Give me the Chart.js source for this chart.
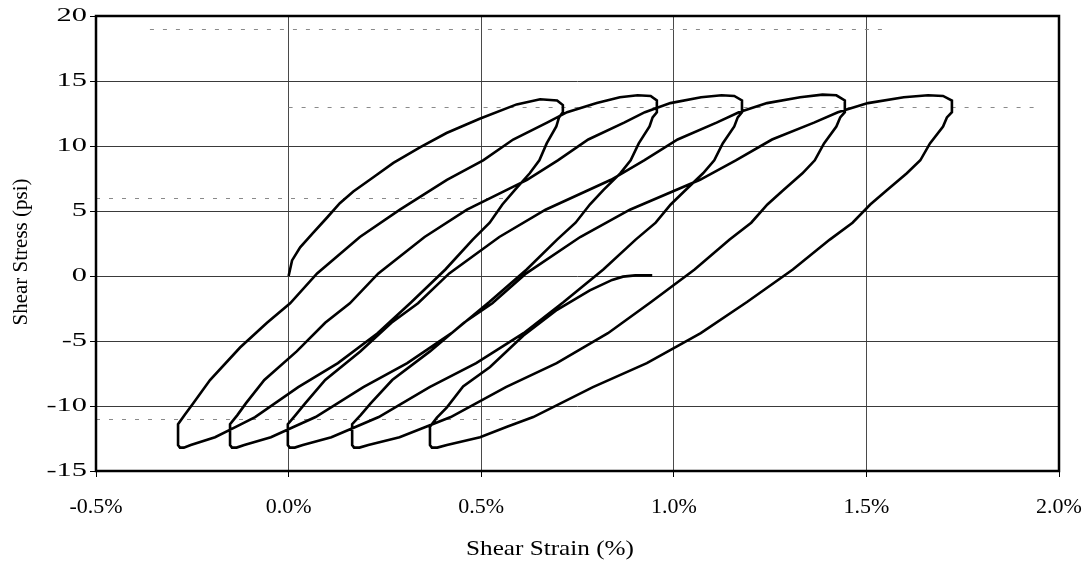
<!DOCTYPE html>
<html>
<head>
<meta charset="utf-8">
<script src="https://cdn.jsdelivr.net/npm/chart.js@4/dist/chart.umd.min.js"></script>
<style>
  html, body { margin: 0; padding: 0; background: #fff; }
  #wrap { width: 1090px; height: 565px; }
</style>
</head>
<body>
<div id="wrap"><canvas id="grafico"></canvas></div>
<script>
// axis ticks
const strainTicks = [-0.5, 0.0, 0.5, 1.0, 1.5, 2.0];
const stressTicks = [-15, -10, -5, 0, 5, 10, 15, 20];

// shear strain (%), shear stress (psi) for each branch of the test
const load1 = [[0,0],[0.009,1.2],[0.03,2.2],[0.063,3.3],[0.10,4.5],[0.133,5.6],[0.168,6.5],[0.22,7.6],[0.272,8.7],[0.341,9.9],[0.41,11.0],[0.496,12.1],[0.592,13.2],[0.653,13.6],[0.697,13.5],[0.712,13.15]];
const unload1 = [[0.712,12.6],[0.702,12.2],[0.695,11.5],[0.670,10.2],[0.651,8.9],[0.626,7.9],[0.587,6.6],[0.555,5.5],[0.522,4.1],[0.478,2.8],[0.407,0.5],[0.319,-2.0],[0.231,-4.4],[0.128,-6.7],[0.025,-8.55],[-0.087,-10.85],[-0.137,-11.6],[-0.191,-12.4],[-0.254,-13.0],[-0.272,-13.2],[-0.282,-13.2]];
const load2 = [[-0.287,-13.0],[-0.287,-11.4],[-0.270,-10.7],[-0.248,-9.8],[-0.204,-8.0],[-0.126,-5.5],[-0.056,-3.6],[0.004,-2.1],[0.074,0.2],[0.185,3.0],[0.289,5.1],[0.411,7.4],[0.505,8.9],[0.583,10.5],[0.671,11.8],[0.723,12.6],[0.80,13.3],[0.86,13.75],[0.906,13.9],[0.94,13.85],[0.956,13.5]];
const unload2 = [[0.956,12.6],[0.945,12.2],[0.937,11.5],[0.909,10.2],[0.888,8.9],[0.861,7.9],[0.817,6.6],[0.782,5.5],[0.745,4.1],[0.697,2.8],[0.618,0.5],[0.521,-2.0],[0.423,-4.4],[0.308,-6.7],[0.194,-8.55],[0.070,-10.85],[0.014,-11.6],[-0.046,-12.4],[-0.115,-13.0],[-0.135,-13.2],[-0.147,-13.2]];
const load3 = [[-0.152,-13.0],[-0.152,-11.4],[-0.133,-10.7],[-0.111,-9.8],[-0.063,-8.0],[0.021,-5.8],[0.095,-3.6],[0.159,-2.1],[0.233,0.2],[0.353,3.0],[0.463,5.1],[0.619,7.4],[0.699,8.9],[0.778,10.5],[0.871,11.8],[0.925,12.6],[0.991,13.3],[1.071,13.75],[1.124,13.9],[1.157,13.85],[1.177,13.5]];
const unload3 = [[1.177,12.6],[1.166,12.2],[1.157,11.5],[1.127,10.2],[1.105,8.9],[1.076,7.9],[1.030,6.6],[0.992,5.5],[0.953,4.1],[0.901,2.8],[0.817,0.5],[0.714,-2.0],[0.610,-4.4],[0.487,-6.7],[0.366,-8.55],[0.234,-10.85],[0.175,-11.6],[0.111,-12.4],[0.037,-13.0],[0.016,-13.2],[0.003,-13.2]];
const load4 = [[-0.002,-13.0],[-0.002,-11.4],[0.018,-10.7],[0.043,-9.8],[0.095,-8.0],[0.186,-5.8],[0.267,-3.6],[0.336,-2.1],[0.417,0.2],[0.547,3.0],[0.667,5.1],[0.837,7.4],[0.923,8.9],[1.010,10.5],[1.111,11.8],[1.169,12.6],[1.242,13.3],[1.328,13.75],[1.386,13.95],[1.422,13.9],[1.444,13.5]];
const unload4 = [[1.444,12.6],[1.432,12.2],[1.422,11.5],[1.390,10.2],[1.366,8.9],[1.334,7.9],[1.284,6.6],[1.243,5.5],[1.201,4.1],[1.145,2.8],[1.054,0.5],[0.941,-2.0],[0.829,-4.4],[0.696,-6.7],[0.564,-8.55],[0.421,-10.85],[0.357,-11.6],[0.288,-12.4],[0.207,-13.0],[0.184,-13.2],[0.170,-13.2]];
const load5 = [[0.165,-13.0],[0.165,-11.4],[0.187,-10.7],[0.213,-9.8],[0.269,-8.0],[0.367,-5.8],[0.455,-3.6],[0.529,-2.1],[0.617,0.2],[0.757,3.0],[0.886,5.1],[1.068,7.4],[1.161,8.9],[1.255,10.5],[1.364,11.8],[1.426,12.6],[1.504,13.3],[1.597,13.75],[1.660,13.9],[1.699,13.85],[1.722,13.5]];
const unload5 = [[1.722,12.6],[1.709,12.2],[1.699,11.5],[1.665,10.2],[1.64,8.9],[1.605,7.9],[1.553,6.6],[1.51,5.5],[1.464,4.1],[1.405,2.8],[1.309,0.5],[1.19,-2.0],[1.07,-4.4],[0.93,-6.7],[0.79,-8.55],[0.635,-10.85],[0.567,-11.6],[0.497,-12.4],[0.411,-13.0],[0.386,-13.2],[0.372,-13.2]];
const load6 = [[0.367,-13.0],[0.367,-11.6],[0.385,-10.9],[0.411,-10.1],[0.453,-8.5],[0.523,-7.0],[0.609,-4.6],[0.697,-2.6],[0.782,-1.1],[0.84,-0.3],[0.868,-0.05],[0.90,0.05],[0.944,0.05]];

// faint dotted rules left on the sheet: [stress, from strain, to strain]
const dottedRules = [[19, -0.36, 1.55], [13, 0.0, 1.95], [6, -0.5, 0.56], [-11, -0.5, 0.62]];

const xTitle = "Shear Strain (%)";
const yTitle = "Shear Stress (psi)";

const branches = [load1, unload1, load2, unload2, load3, unload3, load4, unload4, load5, unload5, load6];
const points = [];
branches.forEach(b => b.forEach(p => points.push({ x: p[0], y: p[1] })));

const serif = "'Liberation Serif', 'Times New Roman', serif";

// draws the dotted rules, the heavy frame, the stress labels and both axis titles
const frame = {
  id: "frame",
  beforeDatasetsDraw(chart) {
    const { ctx, scales } = chart;
    ctx.save();
    ctx.strokeStyle = "#8a8a8a";
    ctx.lineWidth = 1;
    ctx.setLineDash([4, 9]);
    dottedRules.forEach(r => {
      const y = Math.round(scales.y.getPixelForValue(r[0])) + 0.5;
      ctx.beginPath();
      ctx.moveTo(scales.x.getPixelForValue(r[1]), y);
      ctx.lineTo(scales.x.getPixelForValue(r[2]), y);
      ctx.stroke();
    });
    ctx.restore();
  },
  afterDraw(chart) {
    const { ctx, chartArea: a, scales } = chart;
    ctx.save();
    ctx.strokeStyle = "#000";
    ctx.lineWidth = 2.5;
    ctx.strokeRect(a.left, a.top, a.right - a.left, a.bottom - a.top);

    ctx.fillStyle = "#000";
    ctx.textBaseline = "middle";
    ctx.font = "19px " + serif;
    ctx.textAlign = "right";
    stressTicks.forEach(v => {
      ctx.save();
      ctx.translate(a.left - 9, scales.y.getPixelForValue(v));
      ctx.scale(1.6, 1);
      ctx.fillText(String(v), 0, 0);
      ctx.restore();
    });

    ctx.font = "21px " + serif;
    ctx.textAlign = "center";
    ctx.save();
    ctx.translate(550, 549);
    ctx.scale(1.2, 1);
    ctx.fillText(xTitle, 0, 0);
    ctx.restore();

    ctx.save();
    ctx.translate(21, 252);
    ctx.rotate(-Math.PI / 2);
    ctx.fillText(yTitle, 0, 0);
    ctx.restore();
    ctx.restore();
  }
};

new Chart(document.getElementById("grafico").getContext("2d"), {
  type: "scatter",
  data: {
    datasets: [{
      data: points,
      showLine: true,
      borderColor: "#000",
      borderWidth: 2.6,
      pointRadius: 0,
      tension: 0
    }]
  },
  options: {
    responsive: true,
    maintainAspectRatio: false,
    animation: false,
    layout: { padding: { left: 0, right: 31, top: 16, bottom: 0 } },
    plugins: { legend: { display: false }, tooltip: { enabled: false } },
    scales: {
      x: {
        type: "linear",
        min: -0.5,
        max: 2.0,
        afterBuildTicks: s => { s.ticks = strainTicks.map(v => ({ value: v })); },
        afterFit: s => { s.height = 94; s.paddingLeft = 0; s.paddingRight = 0; },
        border: { display: false },
        grid: { color: "#4a4a4a", lineWidth: 1, tickLength: 6, tickColor: "#000" },
        ticks: {
          color: "#000",
          padding: 17,
          font: { family: serif, size: 22 },
          callback: v => v.toFixed(1) + "%"
        }
      },
      y: {
        type: "linear",
        min: -15,
        max: 20,
        afterBuildTicks: s => { s.ticks = stressTicks.map(v => ({ value: v })); },
        afterFit: s => { s.width = 96; s.paddingTop = 0; s.paddingBottom = 0; },
        border: { display: false },
        grid: { color: "#3a3a3a", lineWidth: 1, tickLength: 6, tickColor: "#000" },
        ticks: { display: false }
      }
    }
  },
  plugins: [frame]
});
</script>
</body>
</html>
